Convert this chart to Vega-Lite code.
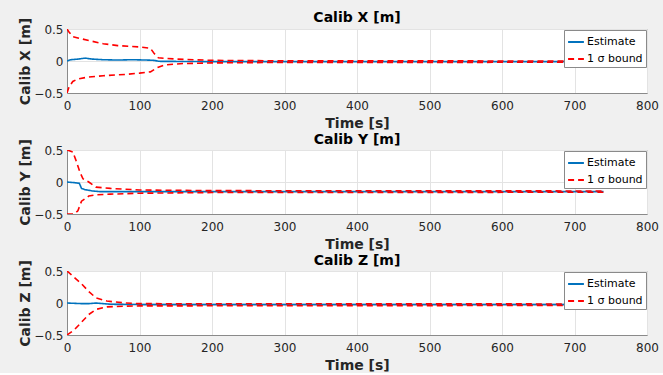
{
  "$schema": "https://vega.github.io/schema/vega-lite/v6.json",
  "background": "#f0f0f0",
  "padding": {"left": 18, "top": 10, "right": 12, "bottom": 0},
  "spacing": 1,
  "config": {
    "font": "DejaVu Sans",
    "view": {"stroke": "#8a8a8a", "strokeWidth": 1, "fill": "white"},
    "axis": {
      "labelFont": "DejaVu Sans", "labelFontSize": 12, "labelColor": "#262626", "labelFlush": false,
      "titleFont": "DejaVu Sans", "titleFontSize": 14, "titleFontWeight": "bold", "titleColor": "#262626",
      "gridColor": "#e3e3e3", "domainColor": "#8a8a8a", "ticks": false, "labelPadding": 7, "titlePadding": 5
    },
    "axisY": {"labelPadding": 4, "titlePadding": 1, "format": ".1~f"},
    "title": {"font": "DejaVu Sans", "fontSize": 14, "fontWeight": "bold", "color": "#000000", "offset": -8},
    "legend": {
      "orient": "top-right", "offset": 1, "title": null, "fillColor": "white", "strokeColor": "#8a8a8a",
      "padding": 3, "labelFont": "DejaVu Sans", "labelFontSize": 11, "labelColor": "#000000",
      "symbolType": "stroke", "symbolSize": 250, "symbolStrokeWidth": 2, "rowPadding": 3, "labelOffset": 2, "labelLimit": 200
    }
  },
  "data": {"values": [
    {"p":"X","s":"Estimate","b":"e","t":0,"v":0},
    {"p":"X","s":"Estimate","b":"e","t":5,"v":0.02},
    {"p":"X","s":"Estimate","b":"e","t":15,"v":0.03},
    {"p":"X","s":"Estimate","b":"e","t":25,"v":0.045},
    {"p":"X","s":"Estimate","b":"e","t":35,"v":0.03},
    {"p":"X","s":"Estimate","b":"e","t":50,"v":0.02},
    {"p":"X","s":"Estimate","b":"e","t":70,"v":0.015},
    {"p":"X","s":"Estimate","b":"e","t":90,"v":0.02},
    {"p":"X","s":"Estimate","b":"e","t":110,"v":0.015},
    {"p":"X","s":"Estimate","b":"e","t":120,"v":0.01},
    {"p":"X","s":"Estimate","b":"e","t":127,"v":-0.005},
    {"p":"X","s":"Estimate","b":"e","t":200,"v":-0.01},
    {"p":"X","s":"Estimate","b":"e","t":740,"v":-0.01},
    {"p":"X","s":"1 σ bound","b":"u","t":0,"v":0.5},
    {"p":"X","s":"1 σ bound","b":"u","t":3,"v":0.45},
    {"p":"X","s":"1 σ bound","b":"u","t":8,"v":0.38},
    {"p":"X","s":"1 σ bound","b":"u","t":15,"v":0.36},
    {"p":"X","s":"1 σ bound","b":"u","t":30,"v":0.32},
    {"p":"X","s":"1 σ bound","b":"u","t":50,"v":0.27},
    {"p":"X","s":"1 σ bound","b":"u","t":70,"v":0.24},
    {"p":"X","s":"1 σ bound","b":"u","t":100,"v":0.22},
    {"p":"X","s":"1 σ bound","b":"u","t":115,"v":0.2},
    {"p":"X","s":"1 σ bound","b":"u","t":120,"v":0.12},
    {"p":"X","s":"1 σ bound","b":"u","t":126,"v":0.05},
    {"p":"X","s":"1 σ bound","b":"u","t":150,"v":0.03},
    {"p":"X","s":"1 σ bound","b":"u","t":200,"v":0.01},
    {"p":"X","s":"1 σ bound","b":"u","t":300,"v":0.003},
    {"p":"X","s":"1 σ bound","b":"u","t":740,"v":0.0},
    {"p":"X","s":"1 σ bound","b":"l","t":0,"v":-0.5},
    {"p":"X","s":"1 σ bound","b":"l","t":3,"v":-0.4},
    {"p":"X","s":"1 σ bound","b":"l","t":8,"v":-0.32},
    {"p":"X","s":"1 σ bound","b":"l","t":15,"v":-0.28},
    {"p":"X","s":"1 σ bound","b":"l","t":30,"v":-0.25},
    {"p":"X","s":"1 σ bound","b":"l","t":50,"v":-0.23},
    {"p":"X","s":"1 σ bound","b":"l","t":80,"v":-0.21},
    {"p":"X","s":"1 σ bound","b":"l","t":100,"v":-0.19},
    {"p":"X","s":"1 σ bound","b":"l","t":115,"v":-0.17},
    {"p":"X","s":"1 σ bound","b":"l","t":125,"v":-0.1},
    {"p":"X","s":"1 σ bound","b":"l","t":135,"v":-0.06},
    {"p":"X","s":"1 σ bound","b":"l","t":160,"v":-0.04},
    {"p":"X","s":"1 σ bound","b":"l","t":200,"v":-0.03},
    {"p":"X","s":"1 σ bound","b":"l","t":300,"v":-0.022},
    {"p":"X","s":"1 σ bound","b":"l","t":740,"v":-0.02},

    {"p":"Y","s":"Estimate","b":"e","t":0,"v":0},
    {"p":"Y","s":"Estimate","b":"e","t":10,"v":-0.01},
    {"p":"Y","s":"Estimate","b":"e","t":17,"v":-0.02},
    {"p":"Y","s":"Estimate","b":"e","t":20,"v":-0.1},
    {"p":"Y","s":"Estimate","b":"e","t":25,"v":-0.12},
    {"p":"Y","s":"Estimate","b":"e","t":35,"v":-0.14},
    {"p":"Y","s":"Estimate","b":"e","t":45,"v":-0.15},
    {"p":"Y","s":"Estimate","b":"e","t":100,"v":-0.15},
    {"p":"Y","s":"Estimate","b":"e","t":740,"v":-0.15},
    {"p":"Y","s":"1 σ bound","b":"u","t":0,"v":0.5},
    {"p":"Y","s":"1 σ bound","b":"u","t":8,"v":0.47},
    {"p":"Y","s":"1 σ bound","b":"u","t":12,"v":0.35},
    {"p":"Y","s":"1 σ bound","b":"u","t":18,"v":0.15},
    {"p":"Y","s":"1 σ bound","b":"u","t":22,"v":0.05},
    {"p":"Y","s":"1 σ bound","b":"u","t":30,"v":0.0},
    {"p":"Y","s":"1 σ bound","b":"u","t":40,"v":-0.08},
    {"p":"Y","s":"1 σ bound","b":"u","t":60,"v":-0.1},
    {"p":"Y","s":"1 σ bound","b":"u","t":100,"v":-0.125},
    {"p":"Y","s":"1 σ bound","b":"u","t":200,"v":-0.135},
    {"p":"Y","s":"1 σ bound","b":"u","t":740,"v":-0.14},
    {"p":"Y","s":"1 σ bound","b":"l","t":0,"v":-0.5},
    {"p":"Y","s":"1 σ bound","b":"l","t":10,"v":-0.5},
    {"p":"Y","s":"1 σ bound","b":"l","t":15,"v":-0.45},
    {"p":"Y","s":"1 σ bound","b":"l","t":20,"v":-0.3},
    {"p":"Y","s":"1 σ bound","b":"l","t":30,"v":-0.22},
    {"p":"Y","s":"1 σ bound","b":"l","t":40,"v":-0.2},
    {"p":"Y","s":"1 σ bound","b":"l","t":60,"v":-0.19},
    {"p":"Y","s":"1 σ bound","b":"l","t":100,"v":-0.175},
    {"p":"Y","s":"1 σ bound","b":"l","t":200,"v":-0.165},
    {"p":"Y","s":"1 σ bound","b":"l","t":740,"v":-0.16},

    {"p":"Z","s":"Estimate","b":"e","t":0,"v":0},
    {"p":"Z","s":"Estimate","b":"e","t":20,"v":-0.01},
    {"p":"Z","s":"Estimate","b":"e","t":30,"v":-0.01},
    {"p":"Z","s":"Estimate","b":"e","t":40,"v":0.0},
    {"p":"Z","s":"Estimate","b":"e","t":60,"v":-0.02},
    {"p":"Z","s":"Estimate","b":"e","t":100,"v":-0.025},
    {"p":"Z","s":"Estimate","b":"e","t":740,"v":-0.025},
    {"p":"Z","s":"1 σ bound","b":"u","t":0,"v":0.5},
    {"p":"Z","s":"1 σ bound","b":"u","t":10,"v":0.4},
    {"p":"Z","s":"1 σ bound","b":"u","t":20,"v":0.3},
    {"p":"Z","s":"1 σ bound","b":"u","t":30,"v":0.18},
    {"p":"Z","s":"1 σ bound","b":"u","t":40,"v":0.08},
    {"p":"Z","s":"1 σ bound","b":"u","t":55,"v":0.03},
    {"p":"Z","s":"1 σ bound","b":"u","t":80,"v":0.0},
    {"p":"Z","s":"1 σ bound","b":"u","t":100,"v":-0.01},
    {"p":"Z","s":"1 σ bound","b":"u","t":200,"v":-0.012},
    {"p":"Z","s":"1 σ bound","b":"u","t":740,"v":-0.015},
    {"p":"Z","s":"1 σ bound","b":"l","t":0,"v":-0.5},
    {"p":"Z","s":"1 σ bound","b":"l","t":10,"v":-0.42},
    {"p":"Z","s":"1 σ bound","b":"l","t":20,"v":-0.3},
    {"p":"Z","s":"1 σ bound","b":"l","t":30,"v":-0.18},
    {"p":"Z","s":"1 σ bound","b":"l","t":40,"v":-0.1},
    {"p":"Z","s":"1 σ bound","b":"l","t":55,"v":-0.06},
    {"p":"Z","s":"1 σ bound","b":"l","t":80,"v":-0.05},
    {"p":"Z","s":"1 σ bound","b":"l","t":100,"v":-0.045},
    {"p":"Z","s":"1 σ bound","b":"l","t":740,"v":-0.038}
  ]},
  "resolve": {"legend": {"color": "independent", "strokeDash": "independent"}},
  "vconcat": [
    {
      "title": "Calib X [m]",
      "width": 580, "height": 64,
      "transform": [{"filter": "datum.p === 'X'"}],
      "mark": {"type": "line", "strokeWidth": 1.6, "clip": true},
      "encoding": {
        "x": {"field": "t", "type": "quantitative", "title": "Time [s]", "scale": {"domain": [0, 800], "nice": false}, "axis": {"values": [0,100,200,300,400,500,600,700,800]}},
        "y": {"field": "v", "type": "quantitative", "title": "Calib X [m]", "scale": {"domain": [-0.5, 0.5], "nice": false}, "axis": {"values": [-0.5, 0, 0.5]}},
        "color": {"field": "s", "type": "nominal", "scale": {"domain": ["Estimate", "1 σ bound"], "range": ["#0072BD", "#FF0000"]}},
        "strokeDash": {"field": "s", "type": "nominal", "scale": {"domain": ["Estimate", "1 σ bound"], "range": [[1, 0], [6, 4]]}},
        "detail": {"field": "b"},
        "order": {"field": "t", "type": "quantitative"}
      }
    },
    {
      "title": "Calib Y [m]",
      "width": 580, "height": 64,
      "transform": [{"filter": "datum.p === 'Y'"}],
      "mark": {"type": "line", "strokeWidth": 1.6, "clip": true},
      "encoding": {
        "x": {"field": "t", "type": "quantitative", "title": "Time [s]", "scale": {"domain": [0, 800], "nice": false}, "axis": {"values": [0,100,200,300,400,500,600,700,800]}},
        "y": {"field": "v", "type": "quantitative", "title": "Calib Y [m]", "scale": {"domain": [-0.5, 0.5], "nice": false}, "axis": {"values": [-0.5, 0, 0.5]}},
        "color": {"field": "s", "type": "nominal", "scale": {"domain": ["Estimate", "1 σ bound"], "range": ["#0072BD", "#FF0000"]}},
        "strokeDash": {"field": "s", "type": "nominal", "scale": {"domain": ["Estimate", "1 σ bound"], "range": [[1, 0], [6, 4]]}},
        "detail": {"field": "b"},
        "order": {"field": "t", "type": "quantitative"}
      }
    },
    {
      "title": "Calib Z [m]",
      "width": 580, "height": 64,
      "transform": [{"filter": "datum.p === 'Z'"}],
      "mark": {"type": "line", "strokeWidth": 1.6, "clip": true},
      "encoding": {
        "x": {"field": "t", "type": "quantitative", "title": "Time [s]", "scale": {"domain": [0, 800], "nice": false}, "axis": {"values": [0,100,200,300,400,500,600,700,800]}},
        "y": {"field": "v", "type": "quantitative", "title": "Calib Z [m]", "scale": {"domain": [-0.5, 0.5], "nice": false}, "axis": {"values": [-0.5, 0, 0.5]}},
        "color": {"field": "s", "type": "nominal", "scale": {"domain": ["Estimate", "1 σ bound"], "range": ["#0072BD", "#FF0000"]}},
        "strokeDash": {"field": "s", "type": "nominal", "scale": {"domain": ["Estimate", "1 σ bound"], "range": [[1, 0], [6, 4]]}},
        "detail": {"field": "b"},
        "order": {"field": "t", "type": "quantitative"}
      }
    }
  ]
}
